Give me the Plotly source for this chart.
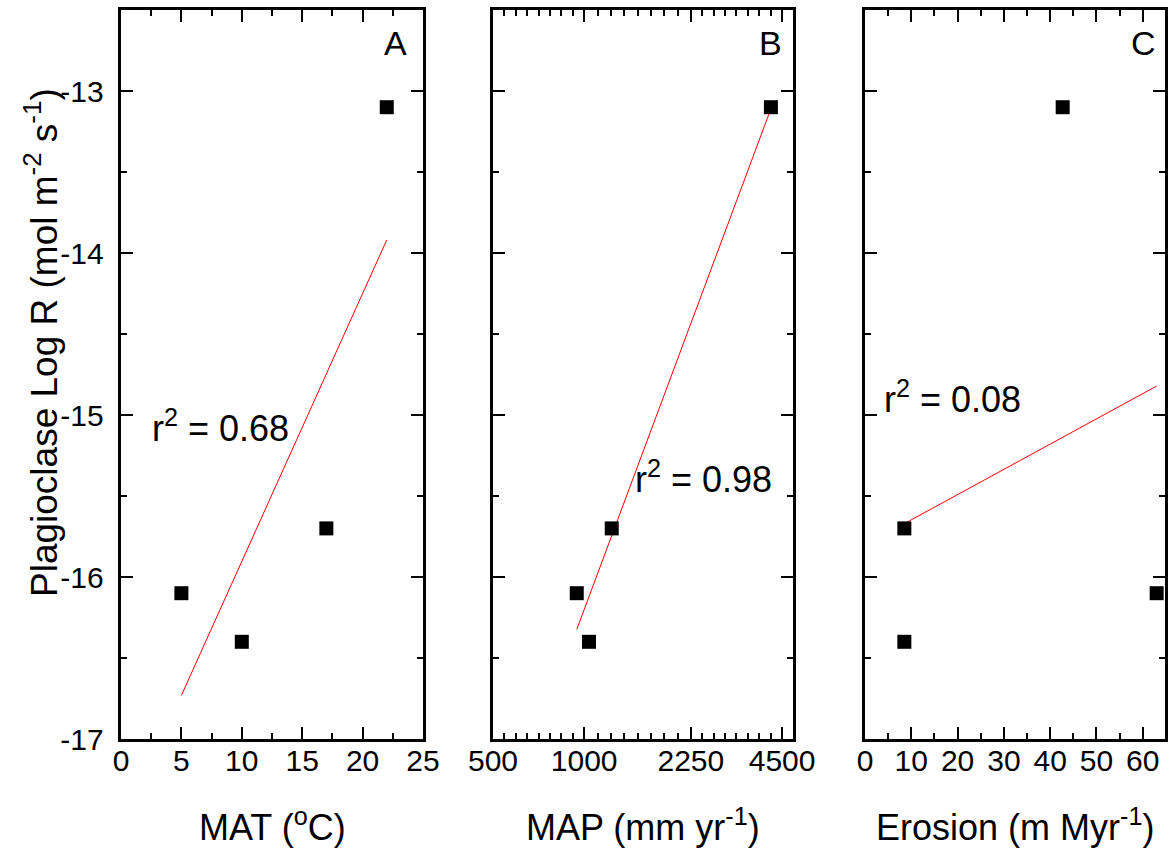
import numpy as np
import plotly.graph_objects as go

# ---- data ----
log_rate = [-16.1, -16.4, -15.7, -13.1]          # Plagioclase Log R
mat = [5, 10, 17, 22]                            # MAT (°C)
map_mm = [945, 1037, 1233, 4134]                 # MAP (mm/yr)
erosion = [63, 8.5, 8.5, 42.7]                   # Erosion (m/Myr)
r2_labels = ["0.68", "0.98", "0.08"]
panel_labels = ["A", "B", "C"]
map_ticks = [500, 1000, 2250, 4500]
y_ticks = [-17, -16, -15, -14, -13]
y_ticktext = ["-17", "-16", "-15", "-14", "-13"]

W, H = 1174, 851
FONT = "Liberation Sans"
NBSP = "\u00a0"


def fx(px):
    return px / W


def fy(py):
    return 1 - py / H


fig = go.Figure()

# linear fits
yv = np.array(log_rate)
fits = []
for xv, logx in [(np.array(mat, float), False), (np.array(map_mm, float), True), (np.array(erosion, float), False)]:
    xf = np.log10(xv) if logx else xv
    m, b = np.polyfit(xf, yv, 1)
    xs = np.array([xv.min(), xv.max()])
    xsf = np.log10(xs) if logx else xs
    fits.append((xs, m * xsf + b))

axes = ["", "2", "3"]
xdata = [mat, map_mm, erosion]
for i, ax in enumerate(axes):
    fig.add_trace(go.Scatter(x=fits[i][0], y=fits[i][1], mode="lines",
                             line=dict(color="red", width=1),
                             xaxis="x" + ax, yaxis="y" + ax, showlegend=False))
    fig.add_trace(go.Scatter(x=xdata[i], y=log_rate, mode="markers",
                             marker=dict(symbol="square", size=14, color="black"),
                             xaxis="x" + ax, yaxis="y" + ax, showlegend=False,
                             cliponaxis=False))

common = dict(showline=True, linecolor="black", linewidth=3, mirror="ticks",
              ticks="inside", ticklen=12, tickwidth=2, tickcolor="black",
              showgrid=False, zeroline=False, automargin=False,
              tickfont=dict(family=FONT, size=30, color="black"))

ydom = [fy(739), fy(10)]
xdoms = [[fx(121), fx(423)], [fx(493), fx(793)], [fx(865), fx(1165)]]

# minor ticks for MAP log axis (7 per interval, evenly spaced in log)
map_minor = []
for a, b in zip(map_ticks[:-1], map_ticks[1:]):
    for k in range(1, 8):
        map_minor.append(a * (b / a) ** (k / 8))

minor_y = dict(ticks="inside", ticklen=6, tickwidth=2, tickcolor="black", dtick=0.5, tick0=-17)

layout = dict(
    width=W, height=H, margin=dict(l=0, r=0, t=0, b=0),
    plot_bgcolor="white", paper_bgcolor="white",
    xaxis=dict(common, domain=xdoms[0], anchor="y", range=[0, 25], tick0=0, dtick=5,
               ticklabelstandoff=-7,
               minor=dict(ticks="inside", ticklen=6, tickwidth=2, tickcolor="black", dtick=2.5, tick0=0)),
    yaxis=dict(common, domain=ydom, anchor="x", range=[-17, -12.5],
               tickmode="array", tickvals=y_ticks, ticktext=[t + NBSP for t in y_ticktext],
               minor=minor_y),
    xaxis2=dict(common, domain=xdoms[1], anchor="y2", type="log",
                range=[np.log10(500), np.log10(4890)],
                tickmode="array", tickvals=map_ticks, ticktext=[str(t) for t in map_ticks],
                ticklabelstandoff=-7,
                minor=dict(ticks="inside", ticklen=6, tickwidth=2, tickcolor="black",
                           tickmode="array", tickvals=map_minor)),
    yaxis2=dict(common, domain=ydom, anchor="x2", range=[-17, -12.5],
                tickmode="array", tickvals=y_ticks, showticklabels=False, minor=minor_y),
    xaxis3=dict(common, domain=xdoms[2], anchor="y3", range=[0, 64.8], tick0=0, dtick=10,
                ticklabelstandoff=-7,
                minor=dict(ticks="inside", ticklen=6, tickwidth=2, tickcolor="black", dtick=5, tick0=0)),
    yaxis3=dict(common, domain=ydom, anchor="x3", range=[-17, -12.5],
                tickmode="array", tickvals=y_ticks, showticklabels=False, minor=minor_y),
)
fig.update_layout(**layout)

ann = []
# axis titles
xtitles = ["MAT (<sup>o</sup>C)", "MAP (mm yr<sup>-1</sup>)", "Erosion (m Myr<sup>-1</sup>)"]
for dom, t in zip(xdoms, xtitles):
    ann.append(dict(text=t, x=(dom[0] + dom[1]) / 2, y=fy(825), xref="paper", yref="paper",
                    xanchor="center", yanchor="middle", showarrow=False,
                    font=dict(family=FONT, size=36, color="black")))
ann.append(dict(text="Plagioclase Log R (mol m<sup>-2</sup> s<sup>-1</sup>)", x=fx(42), y=fy(343),
                xref="paper", yref="paper", xanchor="center", yanchor="middle", textangle=-90,
                showarrow=False, font=dict(family=FONT, size=37, color="black")))
# panel letters
for px, lab in zip([395, 770, 1143], panel_labels):
    ann.append(dict(text=lab, x=fx(px), y=fy(43), xref="paper", yref="paper",
                    xanchor="center", yanchor="middle", showarrow=False,
                    font=dict(family=FONT, size=34, color="black")))
# r^2 labels (data coords)
r2_pos = [("x", "y", 2.4, -15.07), ("x2", "y2", np.log10(500) + (633 - 493) / 302.9, -15.38),
          ("x3", "y3", 3.7, -14.89)]
for (xr, yr, xx, yy), r in zip(r2_pos, r2_labels):
    ann.append(dict(text="r<sup>2</sup> = " + r, x=xx, y=yy, xref=xr, yref=yr,
                    xanchor="left", yanchor="middle", showarrow=False,
                    font=dict(family=FONT, size=36, color="black")))
fig.update_layout(annotations=ann)

fig.write_html("out.html")
